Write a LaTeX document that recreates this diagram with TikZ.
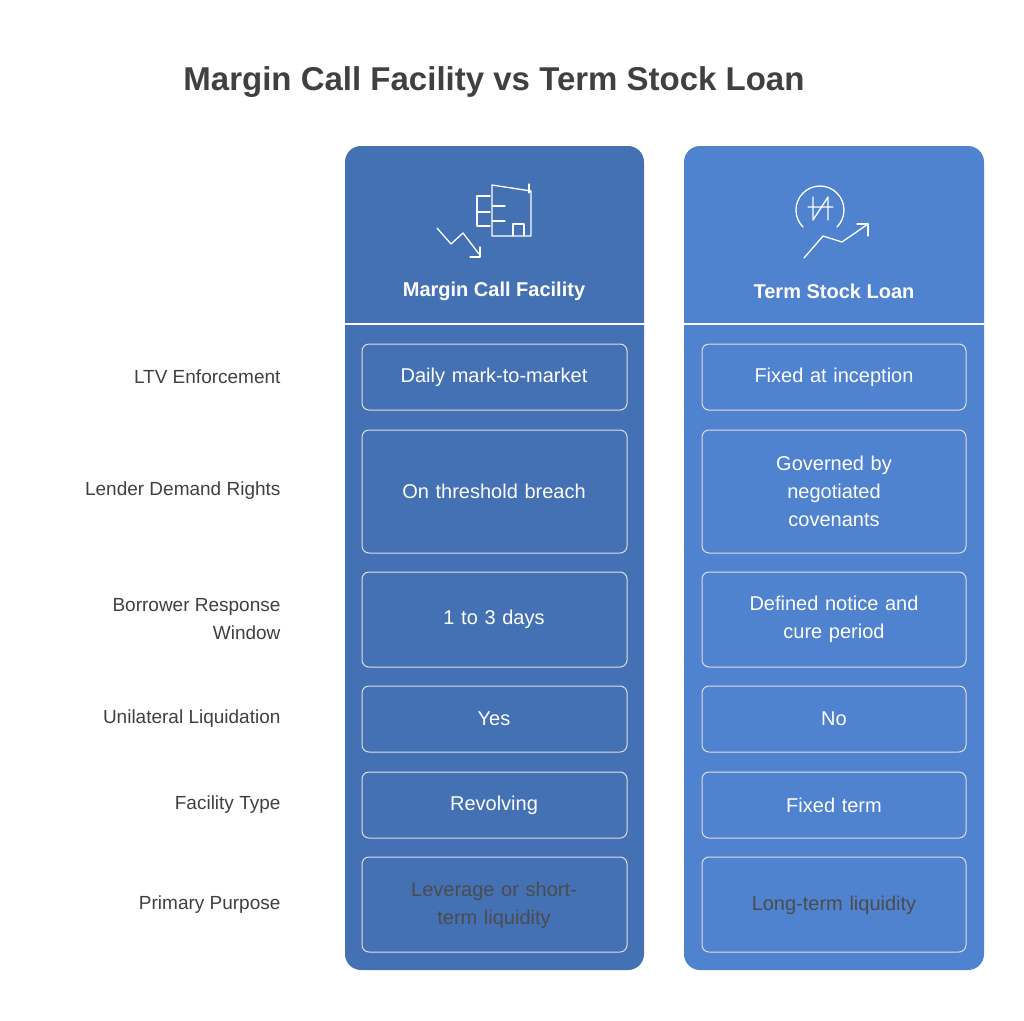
\documentclass[tikz,border=0pt]{standalone}
\usepackage{fontspec}
\setmainfont{Liberation Sans}
\definecolor{colorA}{HTML}{4470B4}
\definecolor{colorB}{HTML}{4F82CF}
\begin{document}
\begin{tikzpicture}[x=1pt,y=-1pt,
 col/.style={rounded corners=16pt},
 cell/.style={draw=white!75!gray,line width=1pt,rounded corners=7pt},
 ctext/.style={text=white,font=\fontsize{20}{28}\selectfont,align=center,text width=250pt},
 dtext/.style={text=black!70,font=\fontsize{20}{28}\selectfont,align=center,text width=250pt},
 lab/.style={anchor=east,text=black!75,font=\fontsize{19}{28}\selectfont,align=right},
 head/.style={text=white,font=\bfseries\fontsize{20}{24}\selectfont},
 ic/.style={draw=white,line width=1.3pt,line cap=round,line join=round}]
\useasboundingbox (0,0) rectangle (1024,1020);
\fill[white] (0,0) rectangle (1024,1020);
\node (title) at (494,82) {\bfseries\fontsize{33}{40}\selectfont\color{black!75}Margin Call Facility vs Term Stock Loan};
\fill[col,fill=colorA] (345,146) rectangle (644,970);
\fill[col,fill=colorB] (684,146) rectangle (984,970);
\draw[white,line width=1.3pt] (345,324) -- (644,324) (684,324) -- (984,324);
\node[head] (hA) at (494,291) {Margin Call Facility};
\node[head] (hB) at (834,291) {Term Stock Loan};
% icon A
\draw[ic] (477,226) -- (477,196) -- (490,196) (477,212) -- (490,212) (477,226) -- (490,226);
\draw[ic] (492,185) -- (492,236) -- (531,236) -- (531,191) -- cycle;
\draw[ic] (529,184) -- (529,193);
\draw[ic] (492,206) -- (505,206) (492,221) -- (505,221);
\draw[ic] (513,236) -- (513,224) -- (524,224) -- (524,236);
\draw[ic] (437,228) -- (451,244) -- (463,233) -- (479,254);
\draw[ic] (470,257) -- (480,257) -- (480,247);
% icon B
\draw[ic] (803,227) arc[start angle=135,end angle=405,radius=24];
\draw[ic] (813,197) -- (813,220) -- (828,197) -- (828,220) (808,207) -- (833,207);
\draw[ic] (804,258) -- (823,236) -- (842,242) -- (868,224);
\draw[ic] (857,224) -- (868,224) -- (868,236);
% labels
\node[lab] (l1) at (284,377) {LTV Enforcement};
\node[lab] (l2) at (284,491) {Lender Demand Rights};
\node[lab] (l3) at (284,619) {Borrower Response\\Window};
\node[lab] (l4) at (284,719) {Unilateral Liquidation};
\node[lab] (l5) at (284,805) {Facility Type};
\node[lab] (l6) at (284,905) {Primary Purpose};
% cells
\foreach \t/\b/\n in {344/410/1,430/553/2,572/667/3,686/752/4,772/838/5,857/952/6}{
 \draw[cell] (362,\t) rectangle (627,\b);
 \draw[cell] (702,\t) rectangle (966,\b);
}
\node[ctext] (a1) at (494,377) {Daily mark-to-market};
\node[ctext] (a2) at (494,491) {On threshold breach};
\node[ctext] (a3) at (494,619) {1 to 3 days};
\node[ctext] (a4) at (494,719) {Yes};
\node[ctext] (a5) at (494,805) {Revolving};
\node[dtext] (a6) at (494,905) {Leverage or short-\\term liquidity};
\node[ctext] (b1) at (834,377) {Fixed at inception};
\node[ctext] (b2) at (834,491) {Governed by\\negotiated\\covenants};
\node[ctext] (b3) at (834,619) {Defined notice and\\cure period};
\node[ctext] (b4) at (834,719) {No};
\node[ctext] (b5) at (834,805) {Fixed term};
\node[dtext] (b6) at (834,905) {Long-term liquidity};
\end{tikzpicture}
\end{document}
